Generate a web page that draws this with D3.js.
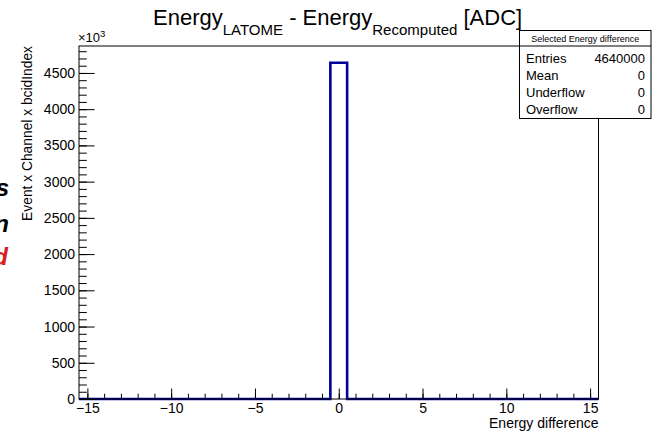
<!DOCTYPE html>
<html>
<head>
<meta charset="utf-8">
<script src="https://cdn.jsdelivr.net/npm/d3@7"></script>
<style>
  html, body { margin: 0; padding: 0; background: #fff; }
  svg { display: block; font-family: "Liberation Sans", Arial, Helvetica, sans-serif; }
</style>
</head>
<body>
<svg id="chart" width="653" height="433"></svg>
<script>
// Histogram: Energy_LATOME - Energy_Recomputed, unit-width bins centred on integers
const binCenters = d3.range(-15, 16);               // -15 ... 15
const binCounts  = binCenters.map(c => c === 0 ? 4640000 : 0);
const xDomain = [-15.5, 15.5];
const yMax = 4872000;                                // 1.05 x peak
const xMajorTicks = [-15, -10, -5, 0, 5, 10, 15];
const yMajorTicks = [0, 500, 1000, 1500, 2000, 2500, 3000, 3500, 4000, 4500]; // x10^3
const statsLabels = ["Entries", "Mean", "Underflow", "Overflow"];
const statsValues = ["4640000", "0", "0", "0"];
const statsTitle = "Selected Energy difference";

const svg = d3.select("#chart");
const frame = { left: 79, right: 598.5, top: 46, bottom: 399 };

const x = d3.scaleLinear().domain(xDomain).range([frame.left, frame.right]);
const y = d3.scaleLinear().domain([0, yMax]).range([frame.bottom, frame.top]);

// Partially visible labels at the far left edge
const edge = svg.append("g").attr("font-style", "italic").attr("font-weight", "bold").attr("font-size", 24);
edge.append("text").attr("x", 9).attr("y", 196).attr("text-anchor", "end").attr("fill", "#000").text("Results");
edge.append("text").attr("x", 9).attr("y", 232).attr("text-anchor", "end").attr("fill", "#000").text("Run");
edge.append("text").attr("x", 8).attr("y", 265).attr("text-anchor", "end").attr("fill", "#d42020").text("Selected");

// Histogram outline
const pts = [];
binCenters.forEach((c, i) => {
  pts.push([c - 0.5, binCounts[i]]);
  pts.push([c + 0.5, binCounts[i]]);
});
const line = d3.line().x(d => x(d[0])).y(d => y(d[1]));
svg.append("path")
  .attr("d", line(pts))
  .attr("fill", "none")
  .attr("stroke", "#000099")
  .attr("stroke-width", 2.6)
  .attr("stroke-linejoin", "miter");

// Frame
svg.append("rect")
  .attr("x", frame.left).attr("y", frame.top)
  .attr("width", frame.right - frame.left).attr("height", frame.bottom - frame.top)
  .attr("fill", "none").attr("stroke", "#000").attr("stroke-width", 1);

// X axis: ticks point into the frame
const xMinor = d3.range(-15, 16);
const xAxisMajor = d3.axisBottom(x).tickValues(xMajorTicks).tickSize(-10.5).tickPadding(4)
  .tickFormat(d => d < 0 ? "\u2212" + Math.abs(d) : d);
const xAxisMinor = d3.axisBottom(x).tickValues(xMinor).tickSize(-5.3).tickFormat("");
const gxm = svg.append("g").attr("transform", `translate(0,${frame.bottom})`).call(xAxisMinor);
const gx = svg.append("g").attr("transform", `translate(0,${frame.bottom})`).call(xAxisMajor);
[gx, gxm].forEach(g => {
  g.select(".domain").remove();
  g.selectAll("line").attr("stroke", "#000");
});
gx.selectAll("text").attr("font-size", 14).attr("fill", "#000")
  .attr("font-family", "Liberation Sans, Arial, sans-serif");

// Y axis: ticks point into the frame
const yMinor = d3.range(0, 4801, 100).map(v => v * 1000);
const yAxisMajor = d3.axisLeft(y).tickValues(yMajorTicks.map(v => v * 1000)).tickSize(-15.6).tickPadding(4)
  .tickFormat(d => d / 1000);
const yAxisMinor = d3.axisLeft(y).tickValues(yMinor).tickSize(-7.8).tickFormat("");
const gym = svg.append("g").attr("transform", `translate(${frame.left},0)`).call(yAxisMinor);
const gy = svg.append("g").attr("transform", `translate(${frame.left},0)`).call(yAxisMajor);
[gy, gym].forEach(g => {
  g.select(".domain").remove();
  g.selectAll("line").attr("stroke", "#000");
});
gy.selectAll("text").attr("font-size", 14).attr("fill", "#000")
  .attr("font-family", "Liberation Sans, Arial, sans-serif");

// Exponent label
const expo = svg.append("text").attr("x", 78).attr("y", 42).attr("font-size", 13);
expo.append("tspan").text("\u00d710");
expo.append("tspan").attr("dy", -5).attr("font-size", 9.5).text("3");

// Axis titles
svg.append("text")
  .attr("x", frame.right).attr("y", 428)
  .attr("text-anchor", "end").attr("font-size", 14)
  .text("Energy difference");
svg.append("text")
  .attr("transform", `translate(32,${frame.top}) rotate(-90)`)
  .attr("text-anchor", "end").attr("font-size", 13.8)
  .text("Event x Channel x bcidIndex");

// Title with subscripts
const title = svg.append("text").attr("x", 153).attr("y", 25).attr("font-size", 22);
title.append("tspan").text("Energy");
title.append("tspan").attr("dy", 10).attr("font-size", 15).text("LATOME");
title.append("tspan").attr("dy", -10).text(" - Energy");
title.append("tspan").attr("dy", 10).attr("font-size", 15).text("Recomputed");
title.append("tspan").attr("dy", -10).text(" [ADC]");

// Statistics box
const box = { x: 519.5, y: 30.5, w: 131.5, h: 88, head: 15.5 };
const stats = svg.append("g");
stats.append("rect")
  .attr("x", box.x).attr("y", box.y).attr("width", box.w).attr("height", box.h)
  .attr("fill", "#fff").attr("stroke", "#000").attr("stroke-width", 1);
stats.append("line")
  .attr("x1", box.x).attr("x2", box.x + box.w)
  .attr("y1", box.y + box.head).attr("y2", box.y + box.head)
  .attr("stroke", "#000");
stats.append("text")
  .attr("x", box.x + box.w / 2).attr("y", box.y + 11)
  .attr("text-anchor", "middle").attr("font-size", 9)
  .text(statsTitle);
const rowY = d3.scalePoint().domain(statsLabels).range([box.y + 32.5, box.y + 83.5]);
statsLabels.forEach((lab, i) => {
  stats.append("text").attr("x", box.x + 6.5).attr("y", rowY(lab)).attr("font-size", 13).text(lab);
  stats.append("text").attr("x", box.x + box.w - 6).attr("y", rowY(lab))
    .attr("text-anchor", "end").attr("font-size", 13).text(statsValues[i]);
});
</script>
</body>
</html>
